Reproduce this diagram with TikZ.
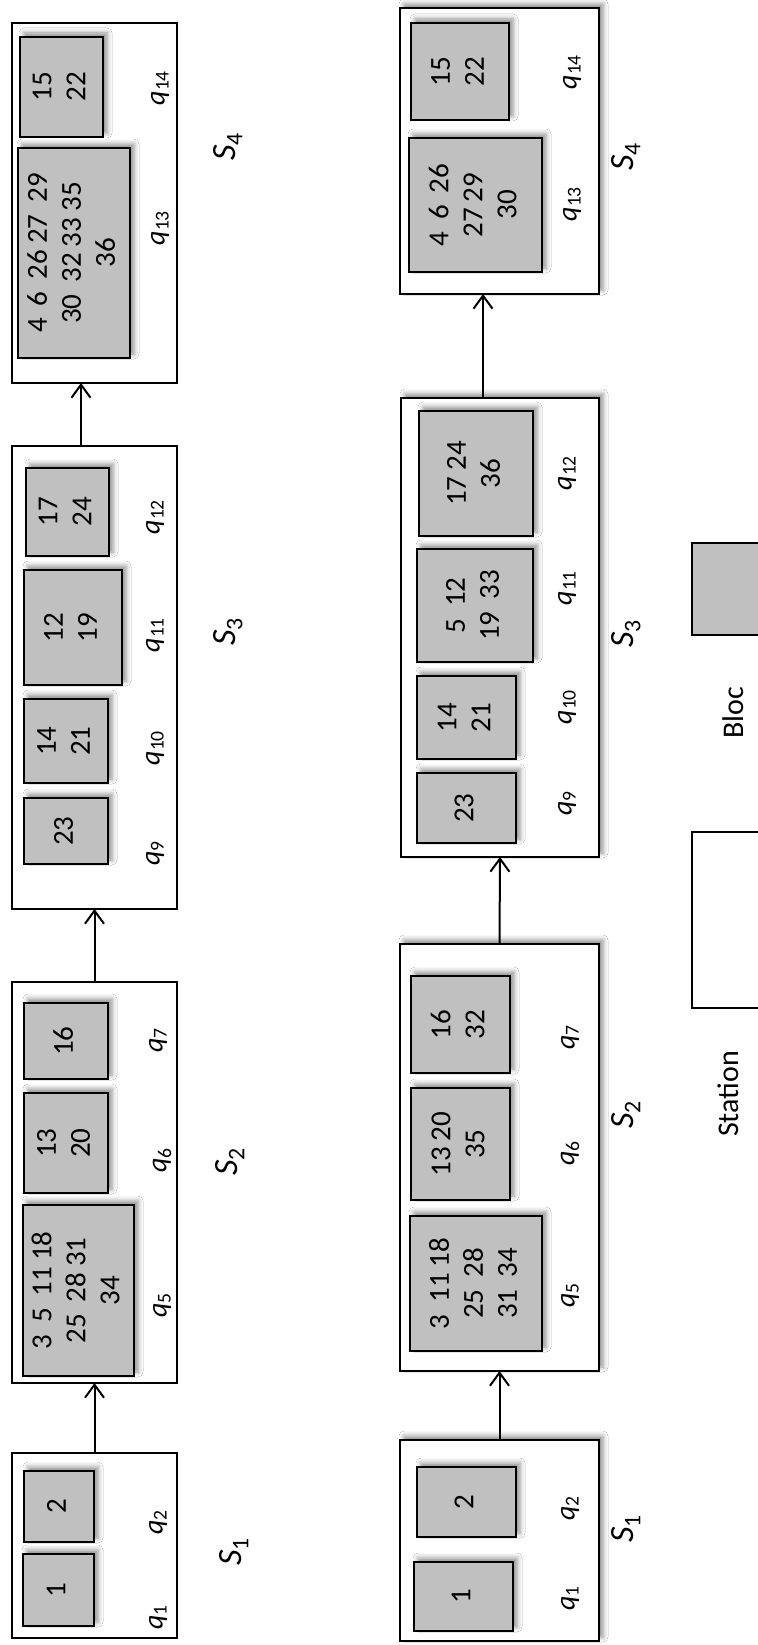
\documentclass[tikz,border=0pt]{standalone}
\usepackage{fontspec}
\setmainfont{Carlito}
\usepackage{graphicx}
\usetikzlibrary{shadows.blur,arrows.meta}
\definecolor{blockgray}{RGB}{192,192,192}
\newcommand\qs[1]{\textit{q}\textsubscript{#1}}
\newcommand\Ss[1]{\textit{S}\textsubscript{#1}}
\newcommand\rt[1]{\rotatebox{90}{\begin{tabular}{@{}c@{}}#1\end{tabular}}}
\newcommand\wsp{\hspace{12pt}}
\newcommand\nsp{\hspace{6pt}}
\newcommand\bx[7]{\node[#1, minimum width={#5-#3}, minimum height={#6-#4}] (#2) at ({(#3+#5)/2},{(#4+#6)/2}) {#7};}
\begin{document}
\begin{tikzpicture}[x=1pt,y=-1pt,
  station/.style={draw=black, line width=2pt, fill=white, inner sep=0pt, outer sep=0pt},
  sshadow/.style={blur shadow={shadow xshift=4pt, shadow yshift=4pt, shadow blur radius=5pt, shadow opacity=45}},
  block/.style={draw=black, line width=2pt, fill=blockgray, inner sep=0pt, outer sep=0pt, sshadow, font=\fontsize{29}{34}\selectfont},
  plainblock/.style={draw=black, line width=2pt, fill=blockgray, inner sep=0pt, outer sep=0pt},
  lab/.style={inner sep=0pt, rotate=90, font=\fontsize{28}{34}\selectfont},
  slab/.style={inner sep=0pt, rotate=90, font=\fontsize{34}{40}\selectfont},
  leg/.style={inner sep=0pt, rotate=90, font=\fontsize{30}{36}\selectfont},
  arr/.style={line width=2pt, -{Straight Barb[length=13pt,width=19pt]}}
]
\fill[white] (0,0) rectangle (757,1645);
\useasboundingbox (0,0) rectangle (757,1645);

% ---------- left diagram ----------
\bx{station}{L1}{12}{1453}{177}{1638}{}
\bx{station}{L2}{12}{982}{177}{1383}{}
\bx{station}{L3}{12}{446}{177}{909}{}
\bx{station}{L4}{12}{23}{177}{383}{}

\bx{block}{b1}{23}{1554}{94}{1626}{\rt{1}}
\bx{block}{b2}{24}{1471}{94}{1542}{\rt{2}}
\bx{block}{b5}{23}{1205}{134}{1376}{\rt{3\wsp5\wsp11\nsp18\\25\wsp28\nsp31\\34}}
\bx{block}{b6}{24}{1093}{108}{1193}{\rt{13\\20}}
\bx{block}{b7}{24}{1003}{108}{1079}{\rt{16}}
\bx{block}{b9}{24}{798}{108}{864}{\rt{23}}
\bx{block}{b10}{24}{699}{108}{783}{\rt{14\\21}}
\bx{block}{b11}{24}{570}{122}{685}{\rt{12\\19}}
\bx{block}{b12}{26}{468}{109}{556}{\rt{17\\24}}
\bx{block}{b13}{18}{148}{130}{358}{\rt{4\wsp6\wsp26\nsp27\wsp29\\30\wsp32\nsp33\nsp35\\36}}
\bx{block}{b14}{20}{37}{103}{137}{\rt{15\\22}}

\node[lab] (lq1) at (158,1617) {\qs{1}};
\node[lab] (lq2) at (158,1522) {\qs{2}};
\node[lab] (lq5) at (162,1305) {\qs{5}};
\node[lab] (lq6) at (162,1160) {\qs{6}};
\node[lab] (lq7) at (158,1040) {\qs{7}};
\node[lab] (lq9) at (155,853) {\qs{9}};
\node[lab] (lq10) at (155,748) {\qs{10}};
\node[lab] (lq11) at (155,635) {\qs{11}};
\node[lab] (lq12) at (155,517) {\qs{12}};
\node[lab] (lq13) at (160,228) {\qs{13}};
\node[lab] (lq14) at (160,88) {\qs{14}};

\node[slab] (lS1) at (234,1552) {\Ss{1}};
\node[slab] (lS2) at (230,1162) {\Ss{2}};
\node[slab] (lS3) at (228,632) {\Ss{3}};
\node[slab] (lS4) at (228,147) {\Ss{4}};

\coordinate (xl) at (81,0);
\draw[arr] (L1.north) -- (L2.south);
\draw[arr] (L2.north) -- (L3.south);
\draw[arr] (L3.north -| xl) -- (L4.south -| xl);

% ---------- right diagram ----------
\bx{station,sshadow}{R1}{400}{1440}{599}{1641}{}
\bx{station,sshadow}{R2}{400}{944}{599}{1371}{}
\bx{station,sshadow}{R3}{401}{398}{599}{857}{}
\bx{station,sshadow}{R4}{400}{8}{599}{294}{}

\bx{block}{c1}{414}{1562}{513}{1631}{\rt{1}}
\bx{block}{c2}{417}{1467}{516}{1537}{\rt{2}}
\bx{block}{c5}{410}{1216}{542}{1351}{\rt{3\wsp11\nsp18\\25\wsp28\\31\wsp34}}
\bx{block}{c6}{411}{1088}{510}{1200}{\rt{13\nsp20\\35}}
\bx{block}{c7}{411}{976}{510}{1073}{\rt{16\\32}}
\bx{block}{c9}{417}{773}{516}{843}{\rt{23}}
\bx{block}{c10}{417}{676}{516}{759}{\rt{14\\21}}
\bx{block}{c11}{417}{549}{533}{662}{\rt{5\wsp12\\19\wsp33}}
\bx{block}{c12}{419}{411}{533}{536}{\rt{17\nsp24\\36}}
\bx{block}{c13}{409}{138}{542}{272}{\rt{4\wsp6\wsp26\\27\nsp29\\30}}
\bx{block}{c14}{411}{23}{509}{120}{\rt{15\\22}}

\node[lab] (rq1) at (570,1598) {\qs{1}};
\node[lab] (rq2) at (570,1508) {\qs{2}};
\node[lab] (rq5) at (570,1295) {\qs{5}};
\node[lab] (rq6) at (570,1153) {\qs{6}};
\node[lab] (rq7) at (570,1037) {\qs{7}};
\node[lab] (rq9) at (567,803) {\qs{9}};
\node[lab] (rq10) at (567,707) {\qs{10}};
\node[lab] (rq11) at (567,588) {\qs{11}};
\node[lab] (rq12) at (567,473) {\qs{12}};
\node[lab] (rq13) at (572,204) {\qs{13}};
\node[lab] (rq14) at (572,72) {\qs{14}};

\node[slab] (rS1) at (626,1529) {\Ss{1}};
\node[slab] (rS2) at (626,1115) {\Ss{2}};
\node[slab] (rS3) at (626,634) {\Ss{3}};
\node[slab] (rS4) at (626,157) {\Ss{4}};

\coordinate (xr) at (483,0);
\draw[arr] (R1.north) -- (R2.south);
\draw[arr] (R2.north) -- (R3.south);
\draw[arr] (R3.north -| xr) -- (R4.south -| xr);

% ---------- legend ----------
\bx{plainblock}{legbloc}{692}{543}{780}{635}{}
\node[leg] (tbloc) at (733,713) {Bloc};
\bx{station}{legstation}{692}{832}{780}{1008}{}
\node[leg] (tstation) at (728,1094) {Station};
\end{tikzpicture}
\end{document}
